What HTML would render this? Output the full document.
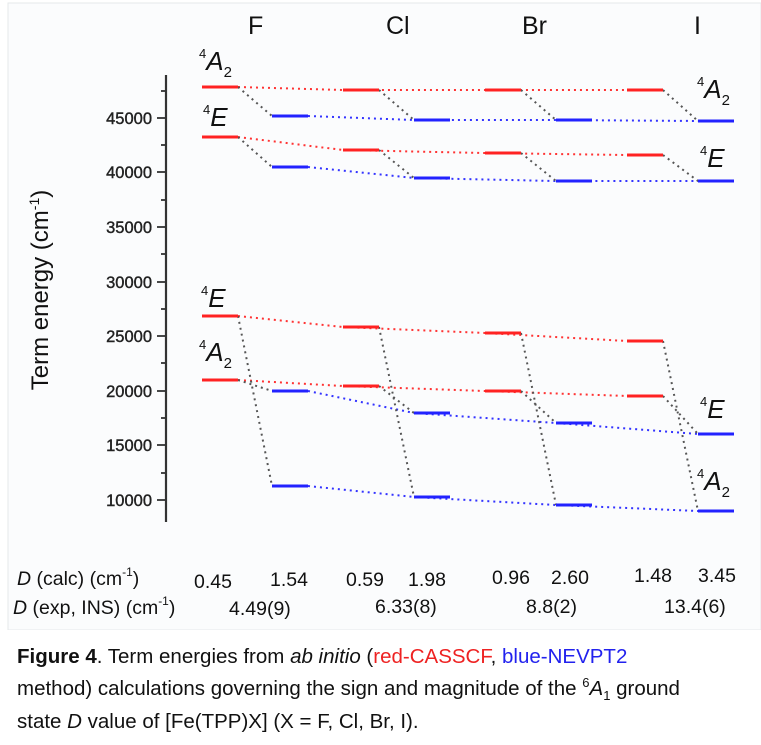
<!DOCTYPE html>
<html><head><meta charset="utf-8"><style>
body{margin:0;background:#fff;width:761px;height:745px;overflow:hidden;font-family:"Liberation Sans",Arial,sans-serif}
.cap{position:absolute;left:17px;top:644px;font-size:20.5px;line-height:26px;color:#111;width:760px;white-space:nowrap}
</style></head><body>
<svg width="761" height="630" style="position:absolute;left:0;top:0" font-family="Liberation Sans, Arial, sans-serif">
<rect x="8" y="3" width="753" height="627" fill="#fbfcfd" stroke="#e6e8ea"/>
<g fill="#111" font-size="25"><text x="248" y="34">F</text><text x="386" y="34">Cl</text><text x="522" y="34">Br</text><text x="694" y="34">I</text></g>
<line x1="166" y1="75" x2="166" y2="522" stroke="#333" stroke-width="2.2"/>
<g stroke="#333" stroke-width="1.8">
<line x1="157" y1="118" x2="166" y2="118"/><line x1="157" y1="172" x2="166" y2="172"/><line x1="157" y1="227" x2="166" y2="227"/><line x1="157" y1="282" x2="166" y2="282"/><line x1="157" y1="336" x2="166" y2="336"/><line x1="157" y1="391" x2="166" y2="391"/><line x1="157" y1="445" x2="166" y2="445"/><line x1="157" y1="500" x2="166" y2="500"/>
<line x1="161" y1="91" x2="166" y2="91"/><line x1="161" y1="145" x2="166" y2="145"/><line x1="161" y1="200" x2="166" y2="200"/><line x1="161" y1="254" x2="166" y2="254"/><line x1="161" y1="309" x2="166" y2="309"/><line x1="161" y1="363" x2="166" y2="363"/><line x1="161" y1="418" x2="166" y2="418"/><line x1="161" y1="473" x2="166" y2="473"/>
</g>
<g fill="#222" font-size="16.5" text-anchor="end" stroke="#222" stroke-width="0.4"><text x="152" y="124">45000</text><text x="152" y="178">40000</text><text x="152" y="233">35000</text><text x="152" y="288">30000</text><text x="152" y="342">25000</text><text x="152" y="397">20000</text><text x="152" y="451">15000</text><text x="152" y="506">10000</text></g>
<text transform="translate(48,290) rotate(-90)" text-anchor="middle" font-size="24" fill="#111">Term energy (cm<tspan dy="-9" font-size="14">-1</tspan><tspan dy="9">)</tspan></text>
<g fill="none" stroke-width="2" stroke-dasharray="2,4">
<polyline stroke="#f33" points="238,87 343,90 485,90 627,90"/>
<polyline stroke="#f33" points="238,137 343,150 485,153 627,155"/>
<polyline stroke="#f33" points="238,316 343,327 485,333 627,341"/>
<polyline stroke="#f33" points="238,380 343,386 485,391 627,396"/>
<polyline stroke="#33f" points="308,116 414,120 556,120 698,121"/>
<polyline stroke="#33f" points="308,167 414,178 556,181 698,181"/>
<polyline stroke="#33f" points="308,391 414,413 556,423 698,434"/>
<polyline stroke="#33f" points="308,486 414,497 556,505 698,511"/>
<g stroke="#555">
<line x1="238" y1="87" x2="272" y2="116"/><line x1="238" y1="137" x2="272" y2="167"/>
<line x1="379" y1="90" x2="414" y2="120"/><line x1="379" y1="150" x2="414" y2="178"/>
<line x1="521" y1="90" x2="556" y2="120"/><line x1="521" y1="153" x2="556" y2="181"/>
<line x1="663" y1="90" x2="698" y2="121"/><line x1="663" y1="155" x2="698" y2="181"/>
<line x1="238" y1="316" x2="272" y2="486"/><line x1="238" y1="380" x2="272" y2="391"/>
<line x1="379" y1="327" x2="414" y2="497"/><line x1="379" y1="386" x2="414" y2="413"/>
<line x1="521" y1="333" x2="556" y2="505"/><line x1="521" y1="391" x2="556" y2="423"/>
<line x1="663" y1="341" x2="698" y2="511"/><line x1="663" y1="396" x2="698" y2="434"/>
</g></g>
<g stroke-width="3">
<g stroke="#f22">
<line x1="202" y1="87" x2="238" y2="87"/><line x1="202" y1="137" x2="238" y2="137"/><line x1="202" y1="316" x2="238" y2="316"/><line x1="202" y1="380" x2="238" y2="380"/>
<line x1="343" y1="90" x2="379" y2="90"/><line x1="343" y1="150" x2="379" y2="150"/><line x1="343" y1="327" x2="379" y2="327"/><line x1="343" y1="386" x2="379" y2="386"/>
<line x1="485" y1="90" x2="521" y2="90"/><line x1="485" y1="153" x2="521" y2="153"/><line x1="485" y1="333" x2="521" y2="333"/><line x1="485" y1="391" x2="521" y2="391"/>
<line x1="627" y1="90" x2="663" y2="90"/><line x1="627" y1="155" x2="663" y2="155"/><line x1="627" y1="341" x2="663" y2="341"/><line x1="627" y1="396" x2="663" y2="396"/>
</g><g stroke="#22f">
<line x1="272" y1="116" x2="308" y2="116"/><line x1="272" y1="167" x2="308" y2="167"/><line x1="272" y1="391" x2="308" y2="391"/><line x1="272" y1="486" x2="308" y2="486"/>
<line x1="414" y1="120" x2="450" y2="120"/><line x1="414" y1="178" x2="450" y2="178"/><line x1="414" y1="413" x2="450" y2="413"/><line x1="414" y1="497" x2="450" y2="497"/>
<line x1="556" y1="120" x2="592" y2="120"/><line x1="556" y1="181" x2="592" y2="181"/><line x1="556" y1="423" x2="592" y2="423"/><line x1="556" y1="505" x2="592" y2="505"/>
<line x1="698" y1="121" x2="734" y2="121"/><line x1="698" y1="181" x2="734" y2="181"/><line x1="698" y1="434" x2="734" y2="434"/><line x1="698" y1="511" x2="734" y2="511"/>
</g></g>
<g fill="#111" font-size="26" font-style="italic">
<text x="199" y="70"><tspan font-size="13" font-style="normal" dy="-12">4</tspan><tspan dy="12">A</tspan><tspan font-size="15" font-style="normal" dy="7">2</tspan></text>
<text x="203" y="126"><tspan font-size="13" font-style="normal" dy="-12">4</tspan><tspan dy="12">E</tspan></text>
<text x="201" y="307"><tspan font-size="13" font-style="normal" dy="-12">4</tspan><tspan dy="12">E</tspan></text>
<text x="199" y="361"><tspan font-size="13" font-style="normal" dy="-12">4</tspan><tspan dy="12">A</tspan><tspan font-size="15" font-style="normal" dy="7">2</tspan></text>
<text x="697" y="98"><tspan font-size="13" font-style="normal" dy="-12">4</tspan><tspan dy="12">A</tspan><tspan font-size="15" font-style="normal" dy="7">2</tspan></text>
<text x="700" y="167"><tspan font-size="13" font-style="normal" dy="-12">4</tspan><tspan dy="12">E</tspan></text>
<text x="700" y="418"><tspan font-size="13" font-style="normal" dy="-12">4</tspan><tspan dy="12">E</tspan></text>
<text x="697" y="490"><tspan font-size="13" font-style="normal" dy="-12">4</tspan><tspan dy="12">A</tspan><tspan font-size="15" font-style="normal" dy="7">2</tspan></text>
</g>
<g fill="#111" font-size="19.5">
<text x="17" y="585"><tspan font-style="italic">D</tspan> (calc) (cm<tspan dy="-9" font-size="12">-1</tspan><tspan dy="9">)</tspan></text>
<text x="13" y="614"><tspan font-style="italic">D</tspan> (exp, INS) (cm<tspan dy="-9" font-size="12">-1</tspan><tspan dy="9">)</tspan></text>
<text x="194" y="588">0.45</text><text x="270" y="586">1.54</text>
<text x="346" y="586">0.59</text><text x="408" y="586">1.98</text>
<text x="492" y="584">0.96</text><text x="551" y="584">2.60</text>
<text x="634" y="582">1.48</text><text x="698" y="582">3.45</text>
<text x="229" y="615">4.49(9)</text><text x="375" y="613">6.33(8)</text><text x="526" y="613">8.8(2)</text><text x="664" y="613">13.4(6)</text>
</g>
</svg>
<div class="cap"><b>Figure 4</b>. Term energies from <i>ab initio</i> (<span style="color:#e22">red-CASSCF</span>, <span style="color:#22e">blue-NEVPT2</span><br>method) calculations governing the sign and magnitude of the <sup style="font-size:13px">6</sup><i>A</i><sub style="font-size:13px">1</sub> ground<br>state <i>D</i> value of [Fe(TPP)X] (X = F, Cl, Br, I).</div>
</body></html>
